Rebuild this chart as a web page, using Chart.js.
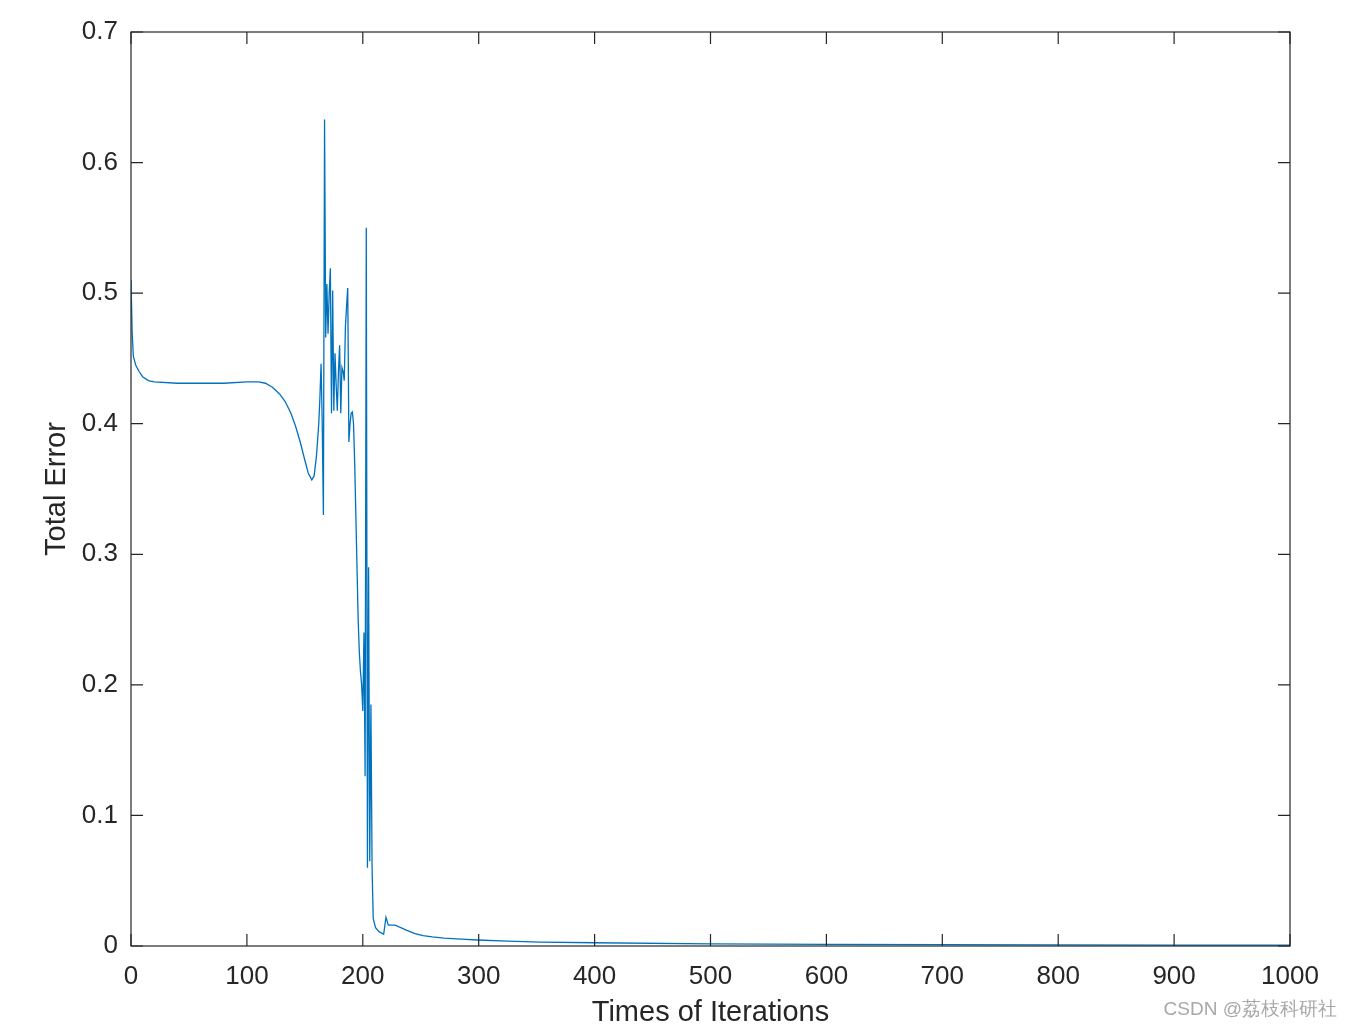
<!DOCTYPE html>
<html>
<head>
<meta charset="utf-8">
<script src="https://cdn.jsdelivr.net/npm/chart.js@4/dist/chart.umd.min.js"></script>
<style>
  html, body { margin: 0; padding: 0; background: #fff; }
  #wrap { width: 1352px; height: 1030px; position: relative; }
</style>
</head>
<body>
<div id="wrap"><canvas id="myChart"></canvas></div>
<script>
// iteration number and total error
const iterations = [0, 1, 2, 4, 7, 10, 15, 20, 40, 80, 100, 110, 116, 122, 128, 133, 138, 142, 146, 150, 153, 156, 158, 160, 162, 163,
  164, 165, 166, 167, 168, 169, 170, 171, 172, 173, 174, 175, 176, 177, 178, 179, 180, 181, 182, 183, 184, 185, 186, 187,
  188, 189, 190, 191, 192, 193, 194, 195, 196, 197, 198, 199, 200, 201, 202, 203, 204, 205, 206, 207, 208, 209,
  211, 214, 218, 220, 222, 228, 238, 245, 252, 260, 270, 285, 299, 325, 353, 400, 500, 600, 700, 800, 900, 1000]
const totalError = [0.51, 0.47, 0.452, 0.445, 0.44, 0.436, 0.433, 0.432, 0.431, 0.431, 0.432, 0.432, 0.431, 0.428, 0.423, 0.417, 0.408, 0.398, 0.386, 0.372, 0.362, 0.357, 0.36, 0.375, 0.40, 0.42,
  0.446, 0.40, 0.33, 0.633, 0.466, 0.507, 0.469, 0.50, 0.519, 0.408, 0.502, 0.41, 0.454, 0.43, 0.41, 0.44, 0.46, 0.408, 0.443, 0.44, 0.433, 0.474, 0.49, 0.504,
  0.386, 0.40, 0.408, 0.409, 0.40, 0.37, 0.33, 0.29, 0.25, 0.225, 0.21, 0.20, 0.18, 0.24, 0.13, 0.55, 0.06, 0.29, 0.065, 0.185, 0.06, 0.021,
  0.014, 0.011, 0.009, 0.022, 0.016, 0.016, 0.012, 0.0095, 0.008, 0.007, 0.006, 0.0052, 0.0046, 0.0037, 0.003, 0.0025, 0.0016, 0.0012, 0.001, 0.0008, 0.0007, 0.0006]

const xTicks = [0, 100, 200, 300, 400, 500, 600, 700, 800, 900, 1000]
const yTicks = [0, 0.1, 0.2, 0.3, 0.4, 0.5, 0.6, 0.7]
const yTickLabels = ['0', '0.1', '0.2', '0.3', '0.4', '0.5', '0.6', '0.7']

const axisColor = '#262626'
const fontName = '"Liberation Sans", Arial, sans-serif'

const points = iterations.map((it, i) => ({ x: it, y: totalError[i] }))

// box around the plot with inward ticks, plus the watermark
const boxPlugin = {
  id: 'box',
  afterDraw(chart) {
    const ctx = chart.ctx
    const a = chart.chartArea
    const xs = chart.scales.x
    const ys = chart.scales.y
    ctx.save()
    ctx.strokeStyle = axisColor
    ctx.lineWidth = 1.2
    ctx.strokeRect(a.left, a.top, a.right - a.left, a.bottom - a.top)
    ctx.beginPath()
    xTicks.forEach(v => {
      let px = xs.getPixelForValue(v)
      ctx.moveTo(px, a.bottom); ctx.lineTo(px, a.bottom - 12)
      ctx.moveTo(px, a.top); ctx.lineTo(px, a.top + 12)
    })
    yTicks.forEach(v => {
      let py = ys.getPixelForValue(v)
      ctx.moveTo(a.left, py); ctx.lineTo(a.left + 12, py)
      ctx.moveTo(a.right, py); ctx.lineTo(a.right - 12, py)
    })
    ctx.stroke()
    ctx.fillStyle = '#a8a8a8'
    ctx.font = '19px ' + fontName
    ctx.textAlign = 'right'
    ctx.textBaseline = 'middle'
    ctx.fillText('CSDN @荔枝科研社', 1337, 1010)
    ctx.restore()
  }
}

new Chart(document.querySelector('#myChart'), {
  type: 'line',
  data: {
    datasets: [{
      label: 'Total Error',
      data: points,
      borderColor: '#0072BD',
      borderWidth: 1.3,
      pointRadius: 0,
      tension: 0,
      fill: false
    }]
  },
  options: {
    responsive: true,
    maintainAspectRatio: false,
    animation: false,
    layout: { padding: { top: 32, right: 62, left: 0, bottom: 0 } },
    plugins: {
      legend: { display: false },
      tooltip: { enabled: false }
    },
    scales: {
      x: {
        type: 'linear',
        min: 0,
        max: 1000,
        afterBuildTicks: s => { s.ticks = xTicks.map(v => ({ value: v })) },
        afterFit: s => { s.height = 84 },
        grid: { display: false, drawTicks: false },
        border: { display: false },
        ticks: {
          color: axisColor,
          font: { size: 26, family: fontName },
          padding: 15,
          maxRotation: 0,
          callback: v => String(v)
        },
        title: {
          display: true,
          text: 'Times of Iterations',
          color: axisColor,
          font: { size: 29, family: fontName },
          padding: { top: 5, bottom: 0 }
        }
      },
      y: {
        type: 'linear',
        min: 0,
        max: 0.7,
        afterBuildTicks: s => { s.ticks = yTicks.map(v => ({ value: v })) },
        afterFit: s => { s.width = 131 },
        grid: { display: false, drawTicks: false },
        border: { display: false },
        ticks: {
          color: axisColor,
          font: { size: 26, family: fontName },
          padding: 13,
          callback: v => yTickLabels[yTicks.indexOf(v)] ?? ''
        },
        title: {
          display: true,
          text: 'Total Error',
          color: axisColor,
          font: { size: 29, family: fontName },
          padding: { top: 40, bottom: 0 }
        }
      }
    }
  },
  plugins: [boxPlugin]
})
</script>
</body>
</html>
